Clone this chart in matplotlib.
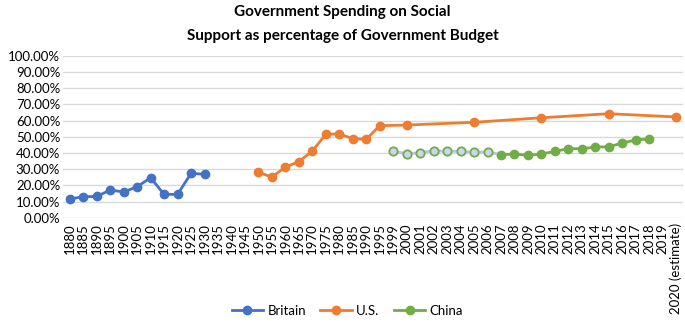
import numpy as np
import matplotlib
matplotlib.use("Agg")
import matplotlib.pyplot as plt
from matplotlib.ticker import FuncFormatter

plt.rcParams['font.family'] = ['Lato', 'DejaVu Sans']

# categories on the x axis (Excel-style category axis)
years = [str(y) for y in range(1880, 1996, 5)] + ['1999'] + [str(y) for y in range(2000, 2020)] + ['2020 (estimate)']

britain_years = ['1880', '1885', '1890', '1895', '1900', '1905', '1910', '1915', '1920', '1925', '1930']
britain_vals = [11.5, 13.0, 13.1, 17.1, 15.9, 19.1, 24.7, 14.4, 14.4, 27.4, 26.8]

us_years = ['1950', '1955', '1960', '1965', '1970', '1975', '1980', '1985', '1990', '1995',
            '2000', '2005', '2010', '2015', '2020 (estimate)']
us_vals = [28.0, 25.1, 31.3, 34.6, 41.2, 51.5, 51.7, 48.8, 48.4, 56.8,
           57.2, 58.9, 61.7, 64.2, 62.2]

china_est_years = ['1999', '2000', '2001', '2002', '2003', '2004', '2005', '2006']
china_est_vals = [41.0, 39.5, 40.1, 41.4, 41.0, 41.0, 40.4, 40.6]

china_years = ['2007', '2008', '2009', '2010', '2011', '2012', '2013', '2014', '2015', '2016', '2017', '2018']
china_vals = [38.9, 39.3, 38.5, 39.3, 41.0, 42.6, 42.6, 43.6, 43.8, 46.1, 48.0, 48.6]

idx = {y: i for i, y in enumerate(years)}


def pos(labels):
    return [idx[l] for l in labels]


fig = plt.figure(figsize=(6.85, 3.23), dpi=100)
ax = fig.add_axes([0.092, 0.326, 0.905, 0.5015])

blue = '#4472C4'
orange = '#ED7D31'
green = '#70AD47'

ax.plot(pos(britain_years), britain_vals, color=blue, lw=2, marker='o', ms=6, label='Britain', zorder=3)
ax.plot(pos(us_years), us_vals, color=orange, lw=2, marker='o', ms=6, label='U.S.', zorder=3)

# estimated China values: light line, hollow markers (joined to the first real value)
est_x = pos(china_est_years) + [idx[china_years[0]]]
est_y = china_est_vals + [china_vals[0]]
ax.plot(est_x, est_y, color='#B4C7E7', lw=2, zorder=2)
ax.plot(pos(china_est_years), china_est_vals, ls='none', marker='o', ms=6,
        mfc='#C9D6EE', mec=green, mew=1.3, zorder=3)
ax.plot(pos(china_years), china_vals, color=green, lw=2, marker='o', ms=6, label='China', zorder=3)

ax.set_xlim(-0.5, len(years) - 0.5)
ax.set_ylim(0, 100)
ax.set_yticks(range(0, 101, 10))
ax.yaxis.set_major_formatter(FuncFormatter(lambda v, p: f'{v:.2f}%'))
ax.set_xticks(range(len(years)))
ax.set_xticklabels(years, rotation=90)
ax.tick_params(axis='both', length=0, labelsize=9.5, colors='#000000')
ax.tick_params(axis='x', pad=4)
ax.tick_params(axis='y', pad=2)
ax.grid(axis='y', color='#D9D9D9', lw=1)
ax.set_axisbelow(True)
for s in ax.spines.values():
    s.set_visible(False)

fig.text(0.5, 0.962, 'Government Spending on Social', ha='center', va='center', fontsize=11, fontweight='bold')
fig.text(0.5, 0.888, 'Support as percentage of Government Budget', ha='center', va='center', fontsize=11, fontweight='bold')

fig.legend(loc='center', bbox_to_anchor=(0.507, 0.037), ncol=3, frameon=False, fontsize=9.5,
           handlelength=2.4, columnspacing=1.1, handletextpad=0.3, borderaxespad=0)

fig.savefig('out.png', dpi=100)
